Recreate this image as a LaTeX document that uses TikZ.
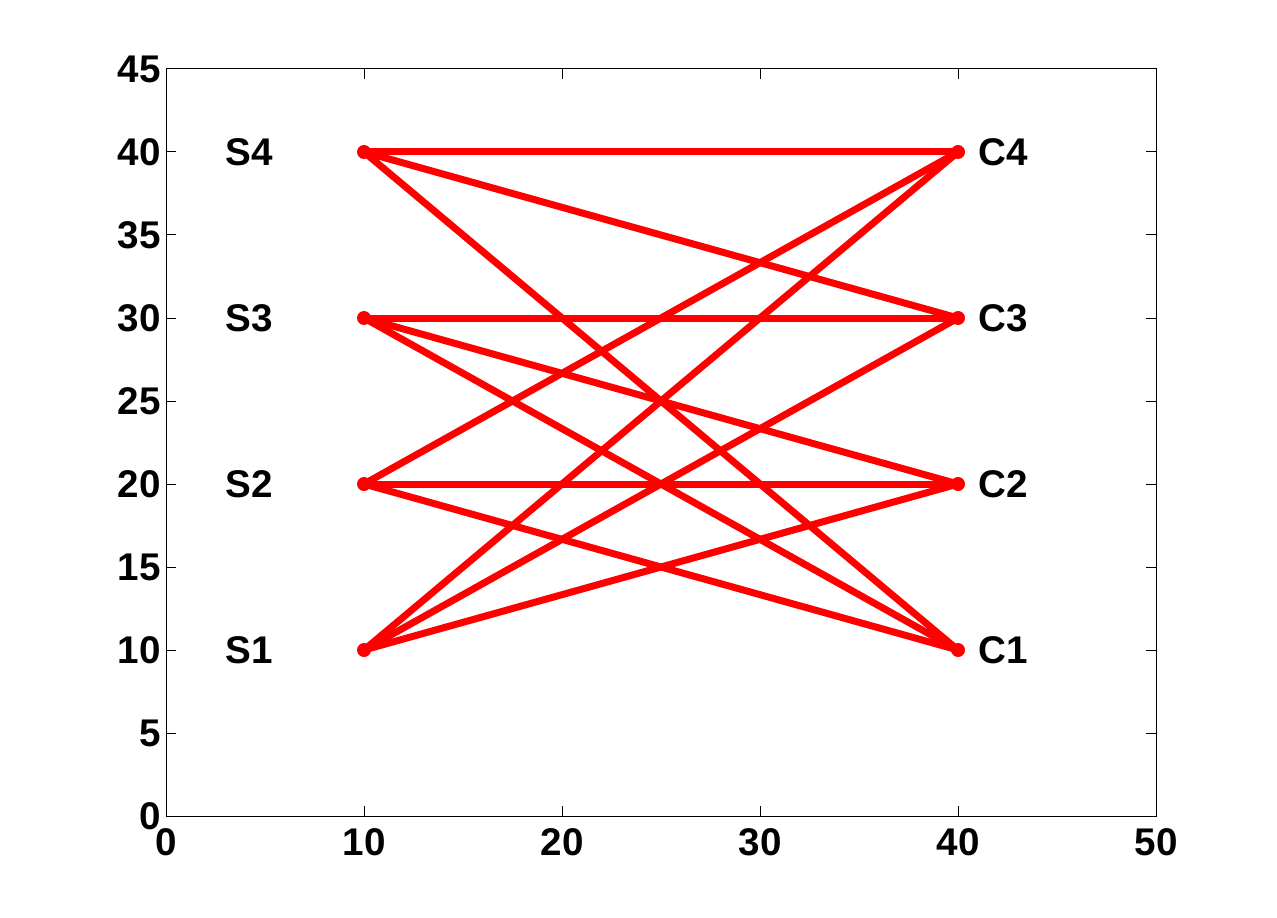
\documentclass[tikz,border=0pt]{standalone}
\usepackage{fontspec}
\setmainfont{Liberation Sans}
\begin{document}
\begin{tikzpicture}[
  lbl/.style={font=\fontsize{19.3}{23}\selectfont\bfseries, inner sep=0pt},
  ylbl/.style={lbl, anchor=base east, xshift=-2.5pt, yshift=-6.8pt},
  xlbl/.style={lbl, anchor=base, yshift=-19.5pt},
  nlbl/.style={lbl, anchor=base west, yshift=-6.8pt},
  edge/.style={draw=red, line width=3.5pt},
  dot/.style={circle, fill=red, inner sep=0pt, minimum size=7pt},
  axis/.style={draw=black, line width=0.5pt}
]
\useasboundingbox (0,0) rectangle (638.5pt,458.5pt);
\fill[white] (0,0) rectangle (638.5pt,458.5pt);
\begin{scope}[shift={(83pt,50.5pt)}, x=9.9pt, y=8.3pt]
  % axes box
  \draw[axis] (0,0) rectangle (50,45);
  \foreach \t in {0,10,...,50} {
    \draw[axis] (\t,0) -- ++(0,5pt);
    \draw[axis] (\t,45) -- ++(0,-5pt);
    \node[xlbl] (xt\t) at (\t,0) {\t};
  }
  \foreach \t in {0,5,...,45} {
    \draw[axis] (0,\t) -- ++(5pt,0);
    \draw[axis] (50,\t) -- ++(-5pt,0);
    \node[ylbl] (yt\t) at (0,\t) {\t};
  }
  % points
  \foreach \i/\y in {1/10,2/20,3/30,4/40} {
    \coordinate (S\i) at (10,\y);
    \coordinate (C\i) at (40,\y);
  }
  % edges
  \foreach \a/\b in {S4/C4,S4/C3,S4/C1,S3/C3,S3/C2,S3/C1,S2/C4,S2/C2,S2/C1,S1/C4,S1/C3,S1/C2} {
    \draw[edge] (\a) -- (\b);
  }
  \foreach \i in {1,2,3,4} {
    \node[dot] (dS\i) at (S\i) {};
    \node[dot] (dC\i) at (C\i) {};
  }
  % labels
  \foreach \i/\y in {1/10,2/20,3/30,4/40} {
    \node[nlbl] (LS\i) at (3,\y) {S\i};
    \node[nlbl] (LC\i) at (41,\y) {C\i};
  }
\end{scope}
\end{tikzpicture}
\end{document}
